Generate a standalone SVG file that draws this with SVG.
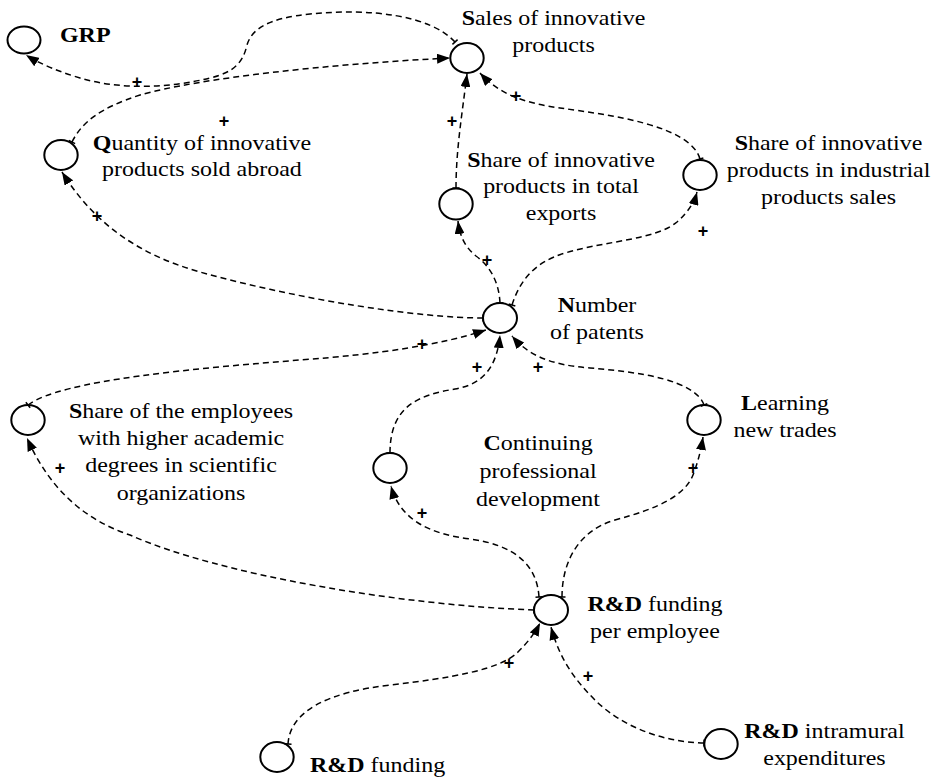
<svg xmlns="http://www.w3.org/2000/svg" width="937" height="779" viewBox="0 0 937 779">
<defs>
<style>
.node ellipse{fill:#fff;stroke:#000;stroke-width:2}
.lbl{font-family:"Liberation Serif","Times New Roman",serif;font-size:22px;fill:#000;text-anchor:middle}
.st{text-anchor:start}
.b{font-weight:bold}
.link{fill:none;stroke:#000;stroke-width:1.5;stroke-dasharray:6 4;marker-start:url(#tick);marker-end:url(#arrow)}
.pl{font-family:"Liberation Sans",Arial,sans-serif;font-size:18px;font-weight:bold;text-anchor:middle;fill:#000}
</style>
<marker id="arrow" viewBox="0 0 13 10" refX="13" refY="5" markerWidth="13" markerHeight="10" markerUnits="userSpaceOnUse" orient="auto">
<path d="M0,0 L13,5 L0,10 z" fill="#000"/>
</marker>
<marker id="tick" viewBox="-4 -4 8 8" refX="0" refY="0" markerWidth="8" markerHeight="8" markerUnits="userSpaceOnUse" orient="auto">
<path d="M0,-3.5 L0,3.5" stroke="#000" stroke-width="1.5" fill="none"/>
</marker>
</defs>
<rect width="937" height="779" fill="#fff"/>

<g id="n-grp" class="node">
<ellipse cx="24" cy="40" rx="16.5" ry="13.5"/>
<text class="lbl st b" transform="scale(1.09 1)" x="55" y="42">GRP</text>
</g>
<g id="n-sales" class="node">
<ellipse cx="467" cy="58" rx="16.7" ry="15"/>
<text class="lbl" transform="scale(1.09 1)" y="25"><tspan x="507.8"><tspan class="b">S</tspan>ales of innovative</tspan><tspan x="507.8" y="52">products</tspan></text>
</g>
<g id="n-quantity" class="node">
<ellipse cx="61" cy="155" rx="16.7" ry="15"/>
<text class="lbl" transform="scale(1.09 1)" y="150"><tspan x="185.3"><tspan class="b">Q</tspan>uantity of innovative</tspan><tspan x="185.3" y="176">products sold abroad</tspan></text>
</g>
<g id="n-share-exports" class="node">
<ellipse cx="456" cy="204" rx="16.7" ry="15.5"/>
<text class="lbl" transform="scale(1.09 1)" y="167"><tspan x="514.7"><tspan class="b">S</tspan>hare of innovative</tspan><tspan x="514.7" y="193.5">products in total</tspan><tspan x="514.7" y="220">exports</tspan></text>
</g>
<g id="n-share-industrial" class="node">
<ellipse cx="700" cy="175" rx="16.7" ry="15"/>
<text class="lbl" transform="scale(1.09 1)" y="150"><tspan x="760.1"><tspan class="b">S</tspan>hare of innovative</tspan><tspan x="760.1" y="177">products in industrial</tspan><tspan x="760.1" y="204">products sales</tspan></text>
</g>
<g id="n-patents" class="node">
<ellipse cx="500" cy="318" rx="17" ry="15"/>
<text class="lbl" transform="scale(1.09 1)" y="312"><tspan x="547.7"><tspan class="b">N</tspan>umber</tspan><tspan x="547.7" y="339">of patents</tspan></text>
</g>
<g id="n-share-employees" class="node">
<ellipse cx="28" cy="420" rx="16.7" ry="15"/>
<text class="lbl" transform="scale(1.09 1)" y="418"><tspan x="166.1"><tspan class="b">S</tspan>hare of the employees</tspan><tspan x="166.1" y="445">with higher academic</tspan><tspan x="166.1" y="472.5">degrees in scientific</tspan><tspan x="166.1" y="500">organizations</tspan></text>
</g>
<g id="n-continuing" class="node">
<ellipse cx="390" cy="468" rx="16.7" ry="15"/>
<text class="lbl" transform="scale(1.09 1)" y="450"><tspan x="493.6"><tspan class="b">C</tspan>ontinuing</tspan><tspan x="493.6" y="478">professional</tspan><tspan x="493.6" y="506">development</tspan></text>
</g>
<g id="n-learning" class="node">
<ellipse cx="704" cy="420" rx="16.7" ry="15"/>
<text class="lbl" transform="scale(1.09 1)" y="410"><tspan x="720.2"><tspan class="b">L</tspan>earning</tspan><tspan x="720.2" y="437">new trades</tspan></text>
</g>
<g id="n-rd-per-employee" class="node">
<ellipse cx="551" cy="610" rx="17" ry="15"/>
<text class="lbl" transform="scale(1.09 1)" y="611"><tspan x="600.9"><tspan class="b">R&amp;D</tspan> funding</tspan><tspan x="600.9" y="638">per employee</tspan></text>
</g>
<g id="n-rd-funding" class="node">
<ellipse cx="277" cy="757" rx="16.7" ry="15"/>
<text class="lbl st" transform="scale(1.09 1)" x="284.4" y="772"><tspan class="b">R&amp;D</tspan> funding</text>
</g>
<g id="n-rd-intramural" class="node">
<ellipse cx="721" cy="744" rx="16.7" ry="15"/>
<text class="lbl" transform="scale(1.09 1)" y="738"><tspan x="756.4"><tspan class="b">R&amp;D</tspan> intramural</tspan><tspan x="756.4" y="765">expenditures</tspan></text>
</g>

<g id="connectors">
<path class="link" d="M72,142 C82,122 100,108 140,95 C200,78 330,64 450,58"/>
<path class="link" d="M455,42 C430,15 370,8 310,14 C270,18 252,28 247,45 C243,62 235,72 210,78 C170,88 120,90 80,78 C60,72 40,64 26,55"/>
<path class="link" d="M483,318 C420,318 300,300 200,272 C140,255 95,225 62,172"/>
<path class="link" d="M456,188 C456,150 462,115 467,74"/>
<path class="link" d="M700,159 C690,125 610,115 560,108 C525,103 500,95 480,73"/>
<path class="link" d="M500,303 C499,282 490,266 476,256 C465,247 460,237 458,221"/>
<path class="link" d="M512,305 C520,280 535,262 565,253 C610,240 655,240 677,222 C688,212 694,203 697,192"/>
<path class="link" d="M28,405 C60,380 200,368 300,360 C380,354 440,345 486,330"/>
<path class="link" d="M390,453 C390,405 420,395 455,389 C485,384 497,365 500,335"/>
<path class="link" d="M704,405 C695,380 640,372 590,368 C550,365 528,355 512,336"/>
<path class="link" d="M534,610 C400,605 220,575 130,535 C85,520 50,490 27,438"/>
<path class="link" d="M539,597 C537,565 515,545 470,539 C430,534 400,520 391,486"/>
<path class="link" d="M562,597 C562,560 580,530 615,520 C660,508 685,495 693,475 C698,462 701,450 703,437"/>
<path class="link" d="M288,744 C290,710 330,692 390,685 C450,678 500,670 518,652 C528,642 535,633 540,623"/>
<path class="link" d="M704,743 C660,742 620,725 595,700 C575,680 560,660 551,627"/>
<text class="pl" x="137" y="88">+</text>
<text class="pl" x="224" y="127">+</text>
<text class="pl" x="97" y="222">+</text>
<text class="pl" x="452" y="127">+</text>
<text class="pl" x="516" y="102">+</text>
<text class="pl" x="487" y="266">+</text>
<text class="pl" x="703" y="237">+</text>
<text class="pl" x="422" y="350">+</text>
<text class="pl" x="477" y="373">+</text>
<text class="pl" x="538" y="373">+</text>
<text class="pl" x="60" y="474">+</text>
<text class="pl" x="422" y="519">+</text>
<text class="pl" x="693" y="474">+</text>
<text class="pl" x="509" y="669">+</text>
<text class="pl" x="588" y="682">+</text>
</g>
</svg>
